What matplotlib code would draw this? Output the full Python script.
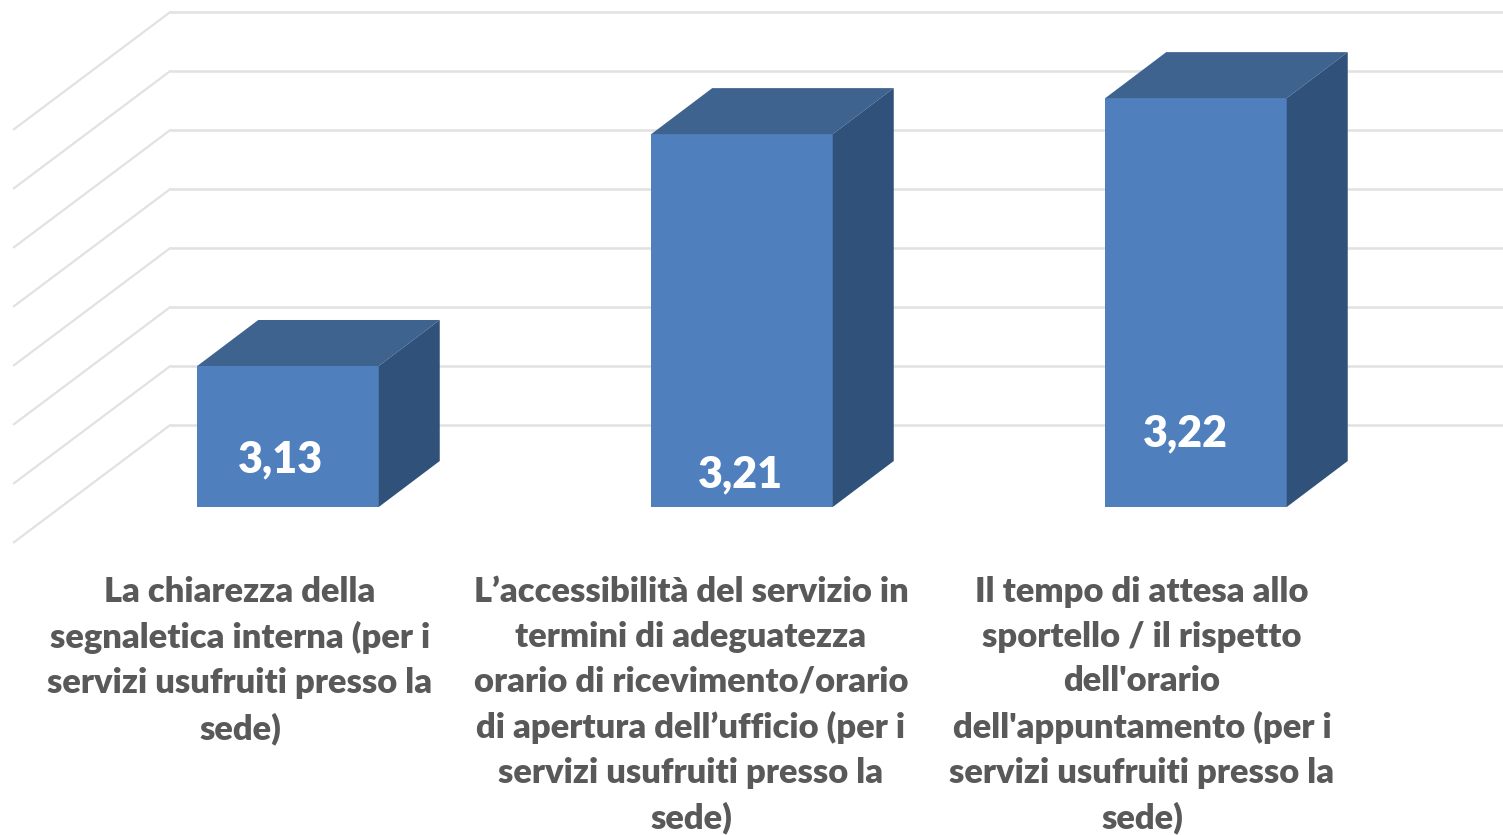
import matplotlib
matplotlib.use("Agg")
import matplotlib.pyplot as plt
from matplotlib.patches import Polygon

categories = [
    "La chiarezza della\nsegnaletica interna (per i\nservizi usufruiti presso la\nsede)",
    "L’accessibilità del servizio in\ntermini di adeguatezza\norario di ricevimento/orario\ndi apertura dell’ufficio (per i\nservizi usufruiti presso la\nsede)",
    "Il tempo di attesa allo\nsportello / il rispetto\ndell'orario\ndell'appuntamento (per i\nservizi usufruiti presso la\nsede)",
]
values = [3.1278, 3.2064, 3.2186]
value_labels = ["3,13", "3,21", "3,22"]
grid_values = [3.08, 3.10, 3.12, 3.14, 3.16, 3.18, 3.20, 3.22]

W, H = 1503, 835
PX = 2950.0           # pixels per value unit
BASE = 3.08
FRONT_Y = 507

fig = plt.figure(figsize=(W / 100, H / 100), dpi=100, facecolor="white")
ax = fig.add_axes([0, 0, 1, 1])
ax.set_xlim(-288 / 454, (W - 288) / 454)
ax.set_ylim(BASE - (H - FRONT_Y) / PX, BASE + FRONT_Y / PX)
ax.axis("off")

ux = 1 / 454
uy = 1 / PX
grid_col = "#E2E2E2"
# back wall offset relative to the bar fronts, in data units
wall_dy = 81.8 * uy
wall_l = (170 - 288) * ux
wall_r = (1503 - 288) * ux
side_dx = -156 * ux
side_dy = -117 * uy
for g in grid_values:
    y = g + wall_dy
    ax.plot([wall_l, wall_r], [y, y], color=grid_col, lw=1.9, solid_capstyle="butt", zorder=1)
    ax.plot([wall_l, wall_l + side_dx], [y, y + side_dy], color=grid_col, lw=1.6, zorder=1)

bar_w = 181.5 * ux
dx = 61 * ux
dy = 46 * uy
face, top, side = "#4F7FBC", "#3E638F", "#30517A"
for i, v in enumerate(values):
    l, r = i - bar_w / 2, i + bar_w / 2
    ax.bar(i, v - BASE, bottom=BASE, width=bar_w, color=face, linewidth=0, zorder=3)
    ax.add_patch(Polygon([(l, v), (r, v), (r + dx, v + dy), (l + dx, v + dy)], facecolor=top, lw=0, zorder=3))
    ax.add_patch(Polygon([(r, v), (r + dx, v + dy), (r + dx, BASE + dy), (r, BASE)], facecolor=side, lw=0, zorder=3))

label_font = ["Lato", "DejaVu Sans"]
label_pos = [(281, 459), (741, 474), (1185, 433)]
for (px, py), t in zip(label_pos, value_labels):
    ax.text((px - 288) * ux, BASE + (FRONT_Y - py) * uy, t, color="white", fontsize=31,
            fontweight="heavy", family=label_font, ha="center", va="center", zorder=4)

cat_x = [240, 691, 1142]
for x, t in zip(cat_x, categories):
    ax.text((x - 288) * ux, BASE + (FRONT_Y - 576) * uy, t, color="#595959", fontsize=24.8,
            fontweight="heavy", family=label_font, ha="center", va="top", linespacing=1.49,
            zorder=4)

fig.savefig("out.png", dpi=100, facecolor="white")
